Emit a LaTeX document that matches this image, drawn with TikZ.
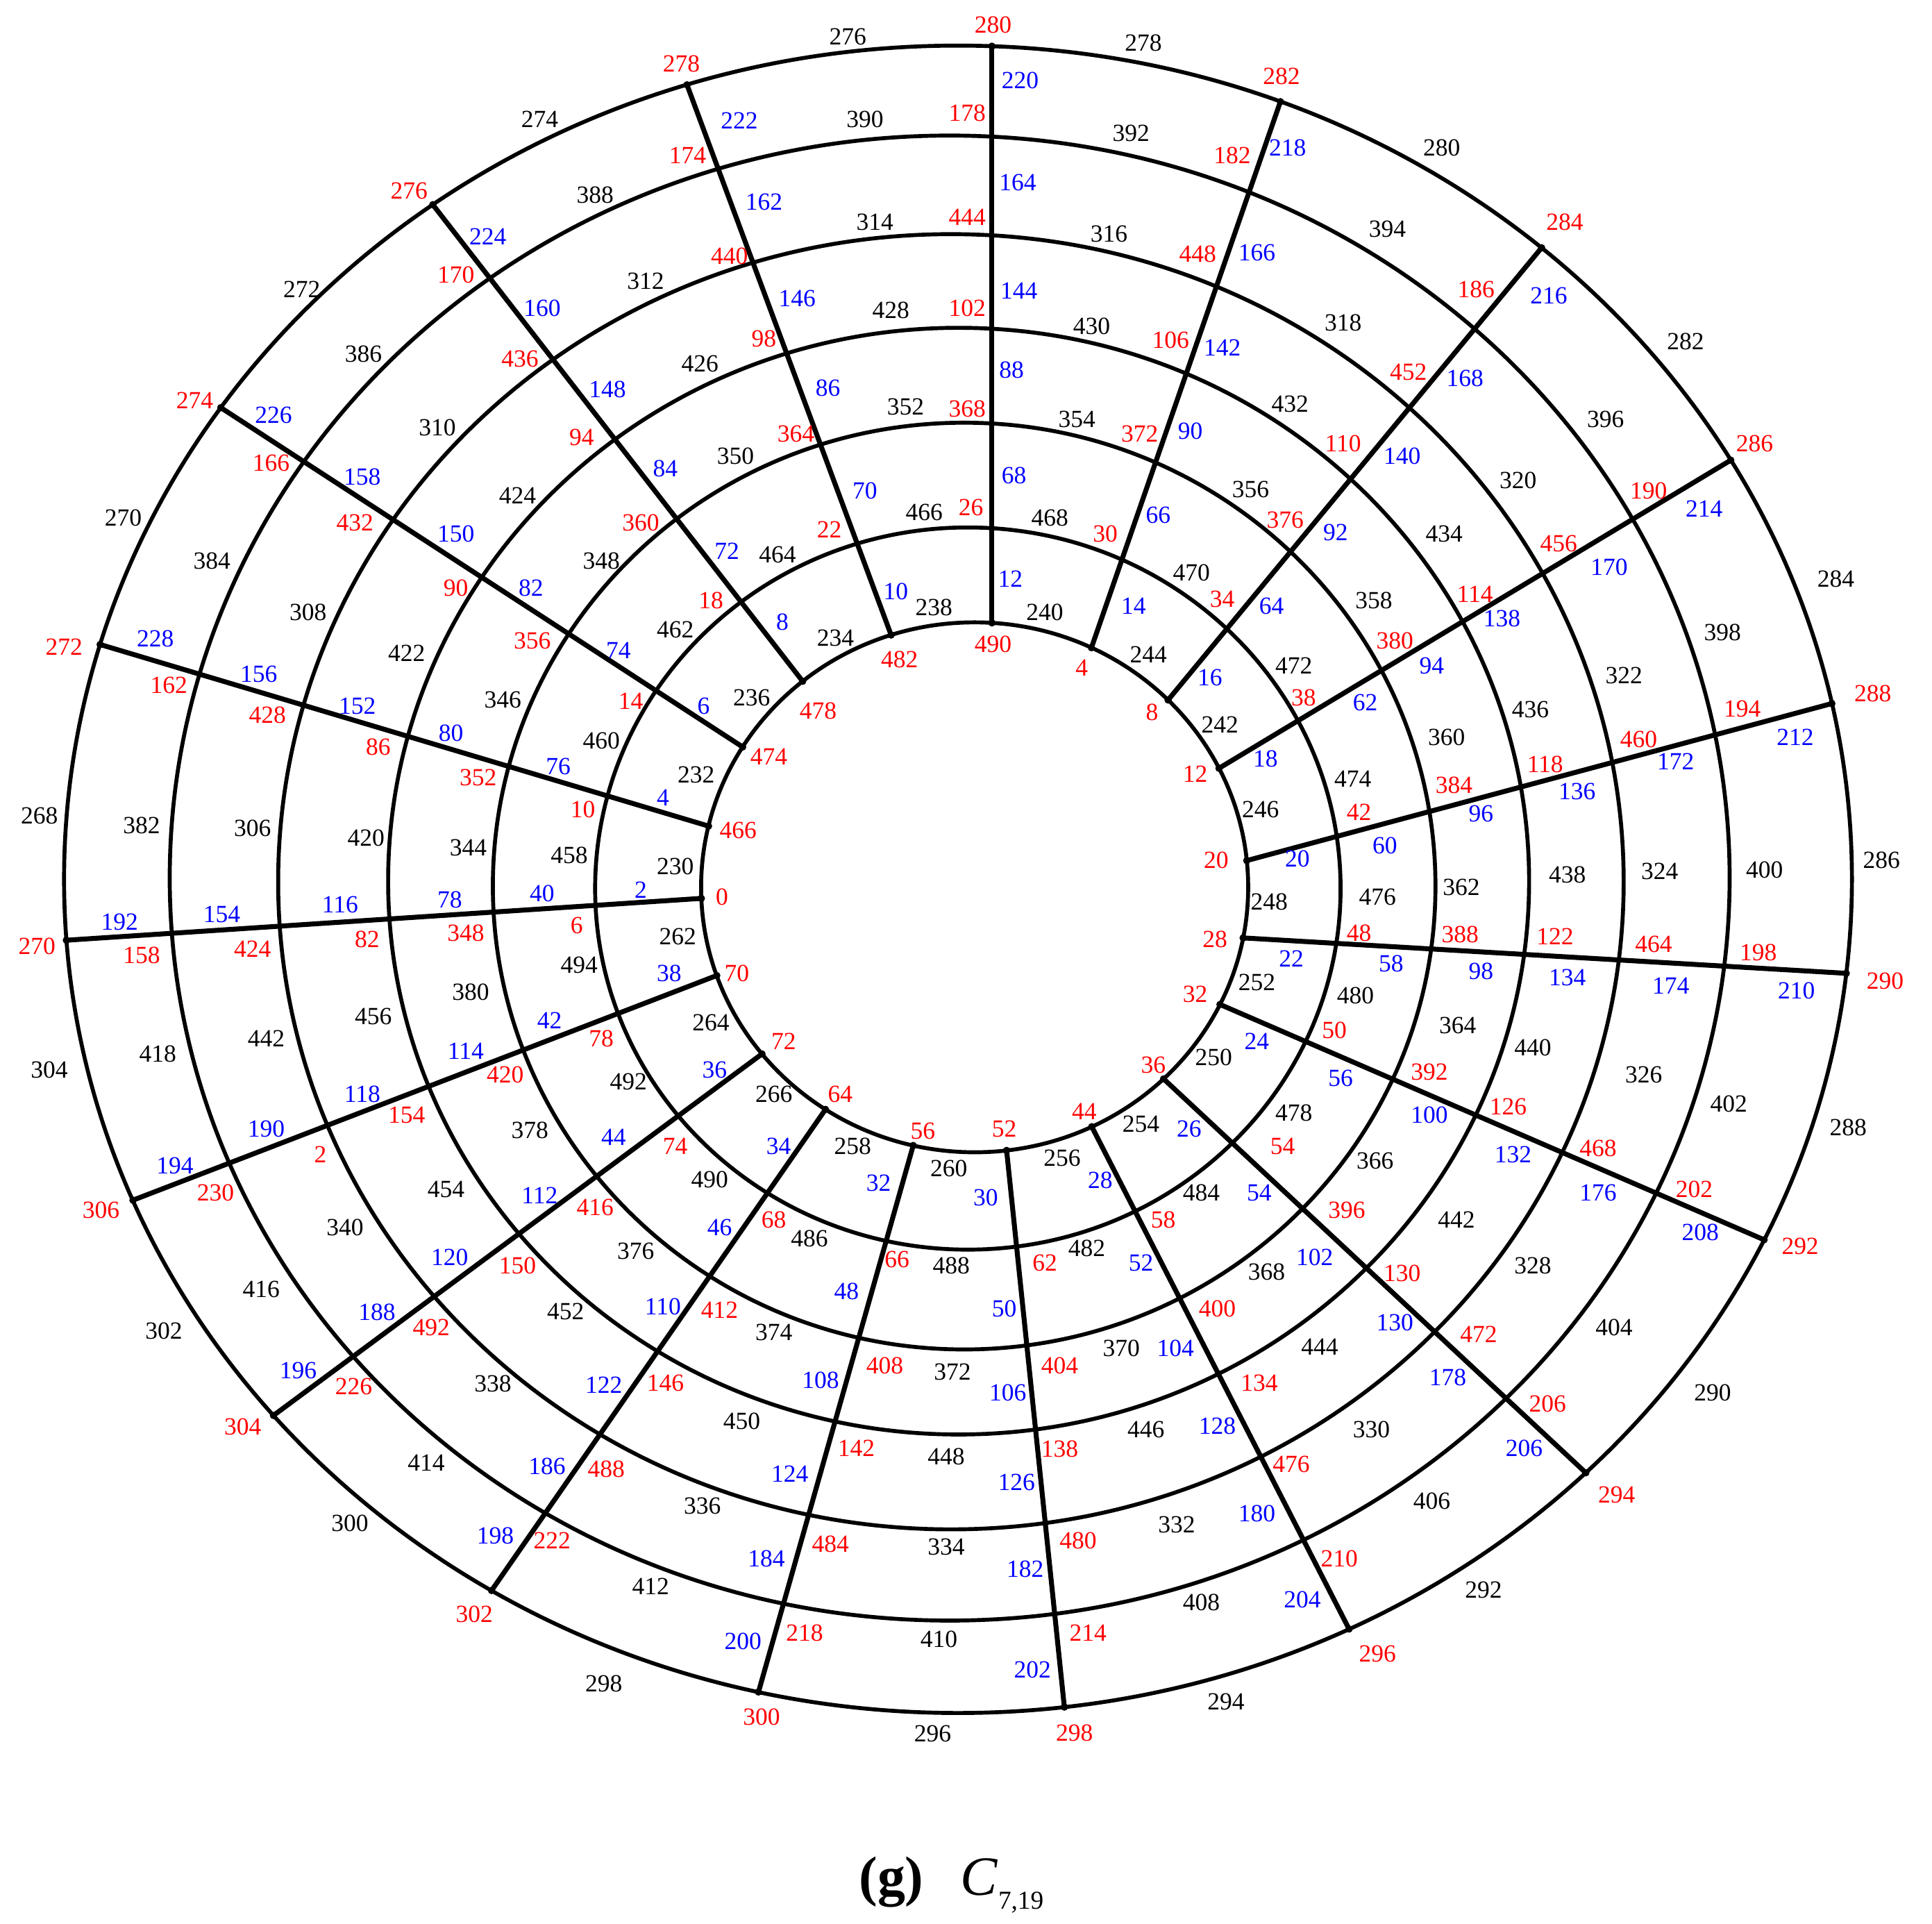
\documentclass[tikz,border=0pt]{standalone}
\usepackage{fontspec}
\setmainfont{Liberation Serif}
\definecolor{labred}{RGB}{255,0,0}
\definecolor{labblue}{RGB}{0,0,255}
\begin{document}
\begin{tikzpicture}[x=1pt,y=1pt,
  ringline/.style={line width=3.2pt},
  spokeline/.style={line width=4pt},
  lab/.style={inner sep=0pt, font=\fontsize{20}{22}\selectfont},
  redlab/.style={lab, text=labred},
  bluelab/.style={lab, text=labblue},
  blacklab/.style={lab, text=black}]
\useasboundingbox (0,0) rectangle (1568,-1561);
\def\RCX{{791,785.5,782.5,778,771.75,770.75,777.5}}
\def\RCY{{720,721,719,715,715.5,712.5,713.5}}
\def\RRX{{222,302.5,382.5,463,546,633,725.5}}
\def\RRY{{215,293,376,449,525.5,602.5,676.5}}
% rings
\foreach \k in {1,...,7}{
  \pgfmathsetmacro\cx{\RCX[\k-1]}
  \pgfmathsetmacro\cy{\RCY[\k-1]}
  \pgfmathsetmacro\rx{\RRX[\k-1]}
  \pgfmathsetmacro\ry{\RRY[\k-1]}
  \coordinate (c\k) at (\cx,-\cy);
  \draw[ringline] (\cx,-\cy) ellipse [x radius=\rx, y radius=\ry];
}
% spokes: straight lines from ring 1 to ring 7; vertices = crossings with the rings
\foreach \i/\px/\py/\qx/\qy in {
 0/805/505/805/37, 1/886/525/1040/80, 2/948/568/1252/200, 3/990/623/1407/372,
 4/1013/698/1490/570, 5/1008/761/1502/790, 6/990/815/1434/1007, 7/946/877/1288/1196,
 8/888/918/1097/1326, 9/817/934/864/1387, 10/741/930/615/1375, 11/668/903/398/1292,
 12/616/857/220/1150, 13/578/793/105/975, 14/569/729/53/763, 15/574/670/78/522,
 16/601/605/178/330, 17/650/551/352/167, 18/722/512/558/70}{
  \foreach \k in {1,...,7} {
    \pgfmathsetmacro\cx{\RCX[\k-1]}
    \pgfmathsetmacro\cy{\RCY[\k-1]}
    \pgfmathsetmacro\rx{\RRX[\k-1]}
    \pgfmathsetmacro\ry{\RRY[\k-1]}
    \pgfmathsetmacro\uo{(\px-\cx)/\rx}
    \pgfmathsetmacro\vo{(\py-\cy)/\ry}
    \pgfmathsetmacro\du{(\qx-\px)/\rx}
    \pgfmathsetmacro\dvv{(\qy-\py)/\ry}
    \pgfmathsetmacro\qa{\du*\du+\dvv*\dvv}
    \pgfmathsetmacro\qb{\uo*\du+\vo*\dvv}
    \pgfmathsetmacro\qc{\uo*\uo+\vo*\vo-1}
    \pgfmathsetmacro\tp{(-\qb+sqrt(\qb*\qb-\qa*\qc))/\qa}
    \pgfmathsetmacro\xv{\px+\tp*(\qx-\px)}
    \pgfmathsetmacro\yv{\py+\tp*(\qy-\py)}
    \coordinate (v-\i-\k) at (\xv,-\yv);
  }
  \draw[spokeline] (v-\i-1) -- (v-\i-7);
  \fill (v-\i-1) circle (3);
  \fill (v-\i-7) circle (3);
}
% vertex labels (red)
\foreach \lab/\lx/\ly [count=\n] in {
 490/806/523, 26/788/412, 368/785/332, 102/785/250, 444/785/176, 178/785/92, 280/806/20,
 4/878/542, 30/897/433, 372/925/352, 106/950/276, 448/972/206, 182/1000/126, 282/1040/62,
 8/935/578, 34/992/486, 376/1043/422, 110/1090/360, 452/1143/302, 186/1198/235, 284/1270/180,
 12/970/628, 38/1058/566, 380/1132/520, 114/1197/482, 456/1265/441, 190/1338/398, 286/1424/360,
 20/987/698, 42/1103/659, 384/1180/637, 118/1254/620, 460/1330/600, 194/1414/575, 288/1520/563,
 28/986/762, 48/1103/757, 388/1185/758, 122/1262/760, 464/1342/766, 198/1427/773, 290/1530/796,
 32/970/807, 50/1083/836, 392/1160/870, 126/1224/898, 468/1297/932, 202/1375/965, 292/1461/1011,
 36/936/864, 54/1041/930, 396/1093/982, 130/1138/1033, 472/1200/1083, 206/1256/1139, 294/1312/1213,
 44/880/902, 58/944/990, 400/988/1062, 134/1022/1122, 476/1048/1188, 210/1087/1265, 296/1118/1342,
 52/815/916, 62/848/1025, 404/860/1108, 138/860/1176, 480/875/1250, 214/883/1325, 298/872/1406,
 56/749/918, 66/728/1022, 408/718/1108, 142/695/1175, 484/674/1253, 218/653/1325, 300/618/1393,
 64/682/888, 68/628/990, 412/584/1063, 146/540/1122, 488/492/1192, 222/448/1250, 302/385/1310,
 72/636/845, 74/548/930, 416/483/980, 150/420/1027, 492/350/1077, 226/287/1125, 304/197/1158,
 70/598/790, 78/488/843, 420/410/872, 154/330/905, 2/260/937, 230/175/968, 306/82/982,
 0/586/728, 6/468/751, 348/378/757, 82/298/762, 424/205/770, 158/115/775, 270/30/768,
 466/599/674, 10/473/657, 352/388/631, 86/307/606, 428/217/580, 162/137/556, 272/52/525,
 474/624/614, 14/512/569, 356/432/520, 90/370/477, 432/288/424, 166/220/376, 274/158/325,
 478/664/577, 18/577/487, 360/520/424, 94/472/355, 436/422/291, 170/370/223, 276/332/155,
 482/730/535, 22/673/430, 364/646/352, 98/620/275, 440/592/208, 174/558/126, 278/553/52}{
  \node[redlab] (r\n) at (\lx,-\ly) {\lab};
}
% spoke edge labels (blue)
\foreach \lab/\lx/\ly [count=\n] in {
 12/820/470, 68/823/386, 88/821/300, 144/827/236, 164/826/148, 220/828/65,
 14/920/492, 66/940/418, 90/966/350, 142/992/282, 166/1020/205, 218/1045/120,
 16/982/550, 64/1032/492, 92/1084/432, 140/1138/370, 168/1189/307, 216/1257/240,
 18/1027/616, 62/1108/570, 94/1162/540, 138/1219/502, 170/1306/460, 214/1383/413,
 20/1053/697, 60/1124/686, 96/1202/660, 136/1280/642, 172/1360/618, 212/1457/598,
 22/1048/778, 58/1129/782, 98/1202/788, 134/1272/793, 174/1356/800, 210/1458/804,
 24/1020/845, 56/1088/875, 100/1160/905, 132/1228/937, 176/1297/968, 208/1380/1000,
 26/965/916, 54/1022/968, 102/1067/1020, 130/1132/1073, 178/1175/1118, 206/1237/1175,
 28/893/958, 52/926/1025, 104/954/1094, 128/988/1157, 180/1020/1228, 204/1057/1298,
 30/800/972, 50/815/1062, 106/818/1130, 126/825/1203, 182/832/1273, 202/838/1355,
 32/713/960, 48/687/1048, 108/666/1120, 124/641/1196, 184/622/1265, 200/603/1332,
 34/632/930, 46/584/996, 110/538/1060, 122/490/1124, 186/444/1190, 198/402/1246,
 36/580/868, 44/498/923, 112/438/970, 120/365/1020, 188/306/1065, 196/242/1112,
 38/543/790, 42/446/828, 114/378/853, 118/294/888, 190/216/916, 194/142/946,
 2/520/722, 40/440/725, 78/365/730, 116/276/734, 154/180/742, 192/97/748,
 4/538/647, 76/453/622, 80/366/595, 152/290/573, 156/210/547, 228/126/518,
 6/571/573, 74/502/528, 82/431/477, 150/370/433, 158/294/387, 226/222/337,
 8/635/505, 72/590/447, 84/540/380, 148/493/316, 160/440/250, 224/396/192,
 10/727/480, 70/702/398, 86/672/315, 146/647/242, 162/620/164, 222/600/98}{
  \node[bluelab] (b\n) at (\lx,-\ly) {\lab};
}
% ring edge labels (black)
\foreach \lab/\lx/\ly [count=\n] in {
 240/848/497, 244/932/531, 242/990/588, 246/1023/657, 248/1030/732, 252/1020/797, 250/985/858,
 254/926/912, 256/862/940, 260/770/948, 258/692/930, 266/628/888, 264/577/830, 262/550/760,
 230/548/703, 232/565/629, 236/610/566, 234/678/518, 238/758/493,
 468/852/420, 470/967/465, 472/1050/540, 474/1098/632, 476/1118/728, 480/1100/808, 478/1050/903,
 484/975/968, 482/882/1013, 488/772/1027, 486/657/1005, 490/576/957, 492/510/878, 494/470/783,
 458/462/694, 460/488/601, 462/548/511, 464/631/450, 466/750/416,
 354/874/340, 356/1015/397, 358/1115/487, 360/1174/598, 362/1186/720, 364/1183/832, 366/1116/942,
 368/1028/1032, 370/910/1094, 372/773/1113, 374/628/1081, 376/516/1015, 378/430/917, 380/382/805,
 344/380/688, 346/408/568, 348/488/455, 350/597/370, 352/735/330,
 430/886/265, 432/1047/328, 434/1172/433, 436/1242/576, 438/1272/710, 440/1244/850, 442/1182/990,
 444/1071/1093, 446/930/1160, 448/768/1182, 450/602/1153, 452/459/1064, 454/362/965, 456/303/825,
 420/297/680, 422/330/530, 424/420/402, 426/568/295, 428/723/252,
 316/900/190, 318/1090/262, 320/1232/390, 322/1318/548, 324/1347/707, 326/1334/872, 328/1244/1027,
 330/1113/1160, 332/955/1237, 334/768/1255, 336/570/1222, 338/400/1123, 340/280/996, 442/216/843,
 306/205/672, 308/250/497, 310/355/347, 312/524/228, 314/710/180,
 392/918/108, 394/1126/186, 396/1303/340, 398/1398/513, 400/1432/706, 402/1403/896, 404/1310/1077,
 406/1162/1218, 408/975/1300, 410/762/1330, 412/528/1287, 414/346/1187, 416/212/1046, 418/128/855,
 382/115/670, 384/172/455, 386/295/287, 388/483/158, 390/702/97,
 278/928/35, 280/1170/120, 282/1368/277, 284/1490/470, 286/1527/698, 288/1500/915, 290/1390/1130,
 292/1204/1290, 294/995/1381, 296/757/1407, 298/490/1366, 300/284/1236, 302/133/1080, 304/40/868,
 268/32/662, 270/100/420, 272/245/235, 274/438/97, 276/688/30}{
  \node[blacklab] (a\n) at (\lx,-\ly) {\lab};
}
% caption
\node[anchor=base west, inner sep=0pt, font=\fontsize{45}{50}\selectfont\bfseries] (capg) at (697,-1538) {(g)};
\node[anchor=base west, inner sep=0pt, font=\fontsize{45}{50}\selectfont\itshape] (capc) at (779,-1538) {C};
\node[anchor=base west, inner sep=0pt, font=\fontsize{21}{24}\selectfont] (caps) at (810,-1549) {7,19};
\end{tikzpicture}
\end{document}
